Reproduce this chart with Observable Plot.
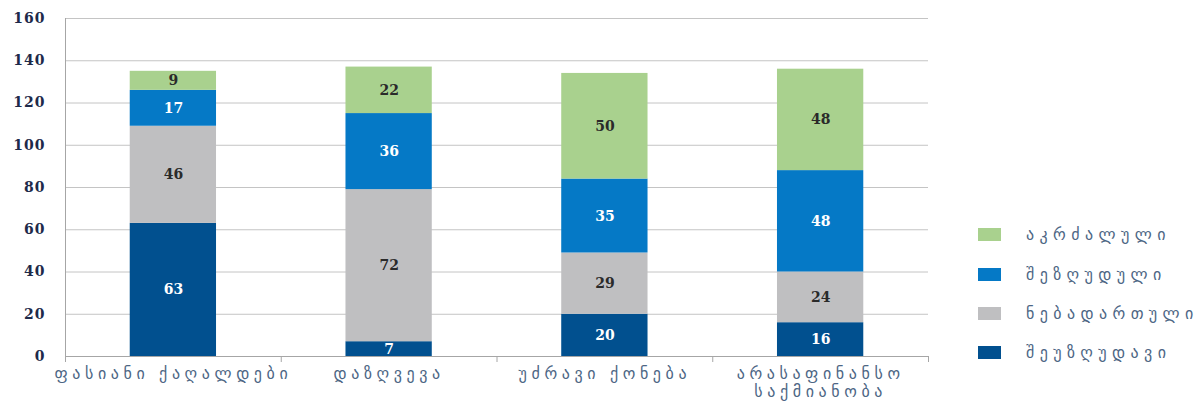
<!DOCTYPE html>
<html>
<head>
<meta charset="utf-8">
<script src="https://cdn.jsdelivr.net/npm/d3@7"></script>
<script src="https://cdn.jsdelivr.net/npm/@observablehq/plot@0.6"></script>
<style>
  body { margin: 0; background: #fff; }
  #wrap { position: relative; width: 1202px; height: 401px; overflow: hidden; }
  #legend { position: absolute; left: 978px; top: 215px; font-family: "DejaVu Sans", sans-serif; }
  .item { display: flex; align-items: center; height: 39.4px; }
  .sw { width: 23px; height: 13px; margin-right: 25px; flex: none; }
  .lab { font-size: 16px; letter-spacing: 5.4px; color: #4d6684; white-space: nowrap; }
</style>
</head>
<body>
<div id="wrap"><div id="chart"></div><div id="legend"></div></div>
<script>
const categories = ["ფასიანი ქაღალდები", "დაზღვევა", "უძრავი ქონება", "არასაფინანსო\nსაქმიანობა"];
const series = ["შეუზღუდავი", "ნებადართული", "შეზღუდული", "აკრძალული"];
const colors = ["#01508f", "#bfbfc1", "#0579c6", "#a9d18e"];
const labelColors = ["#ffffff", "#2a2a2a", "#ffffff", "#2a2a2a"];
const unrestricted = [63, 7, 20, 16];
const permitted = [46, 72, 29, 24];
const restricted = [17, 36, 35, 48];
const prohibited = [9, 22, 50, 48];
const yTicks = [0, 20, 40, 60, 80, 100, 120, 140, 160];

const values = [unrestricted, permitted, restricted, prohibited];
const bars = [];
categories.forEach((c, i) => {
  let base = 0;
  series.forEach((s, k) => {
    const v = values[k][i];
    bars.push({i, cat: c, series: s, k, v, y1: base, y2: base + v});
    base += v;
  });
});
const cats = categories.map((c, i) => ({i, c}));

const chart = Plot.plot({
  width: 1202,
  height: 401,
  marginLeft: 65,
  marginRight: 274,
  marginTop: 18,
  marginBottom: 45,
  x: {domain: [0, 4], axis: null},
  y: {domain: [0, 160], axis: null},
  style: {background: "#fff"},
  marks: [
    Plot.gridY(yTicks, {stroke: "#c4c4c4", strokeOpacity: 1}),
    Plot.axisY(yTicks, {tickSize: 0, tickPadding: 20, fontFamily: "DejaVu Serif", fontWeight: "bold", fontSize: 14, fill: "#1e2a4a"}),
    Plot.ruleX([0], {stroke: "#a6a6a6"}),
    Plot.ruleY([0], {stroke: "#a6a6a6"}),
    Plot.axisX([0, 1, 2, 3, 4], {tickSize: 6, tickFormat: () => "", stroke: "#a6a6a6"}),
    Plot.rectY(bars, {x1: d => d.i + 0.3, x2: d => d.i + 0.7, y1: "y1", y2: "y2", fill: d => colors[d.k]}),
    Plot.text(bars, {x: d => d.i + 0.5, y: d => (d.y1 + d.y2) / 2, text: d => String(d.v), fill: d => labelColors[d.k], fontFamily: "DejaVu Serif", fontWeight: "bold", fontSize: 14}),
    Plot.text(cats, {x: d => d.i + 0.5, y: 0, text: "c", dy: 10, lineAnchor: "top", lineHeight: 1.1, fontFamily: "DejaVu Sans", fontSize: 16, fill: "#4d6684"})
  ]
});
document.getElementById("chart").appendChild(chart);

const textGroups = d3.select(chart).selectAll('g[aria-label="text"]').nodes();
d3.select(textGroups[textGroups.length - 1]).selectAll("text").attr("letter-spacing", "4.6px");
d3.select(chart).selectAll('g[aria-label="y-axis tick label"] text').attr("letter-spacing", "1px");

const legend = document.getElementById("legend");
[3, 2, 1, 0].forEach(k => {
  const row = document.createElement("div");
  row.className = "item";
  const sw = document.createElement("div");
  sw.className = "sw";
  sw.style.background = colors[k];
  const lab = document.createElement("div");
  lab.className = "lab";
  lab.textContent = series[k];
  row.appendChild(sw); row.appendChild(lab);
  legend.appendChild(row);
});
</script>
</body>
</html>
